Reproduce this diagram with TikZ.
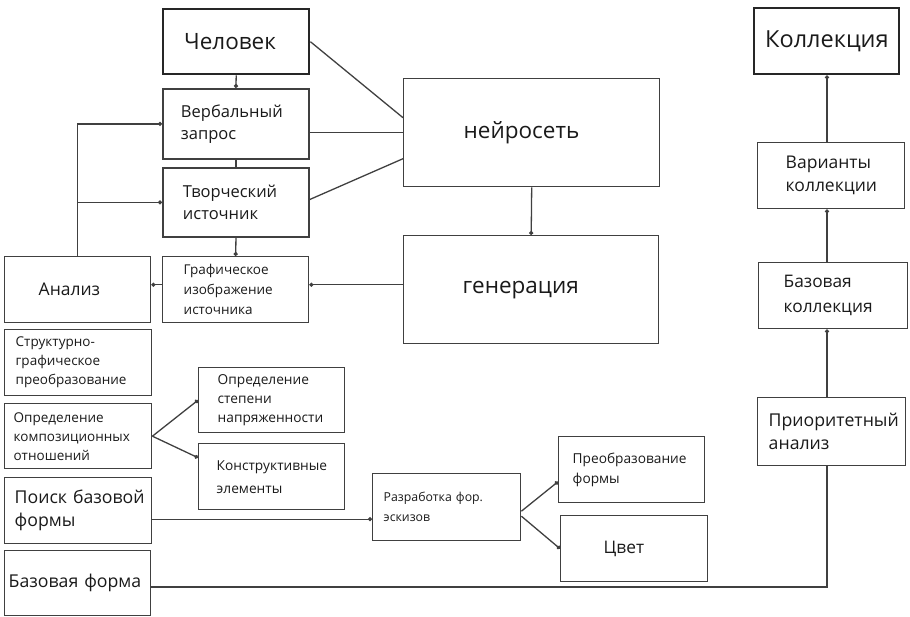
\documentclass[tikz,border=0pt]{standalone}
\usepackage{fontspec}
\setmainfont{Open Sans}
\usetikzlibrary{arrows.meta,calc}
\definecolor{lc}{HTML}{404040}
\definecolor{tc}{HTML}{1A1A1A}
\newcommand\fsz[2]{\fontsize{#1}{#2}\selectfont}
\tikzset{
  bx/.style={draw=lc, line width=1.4pt, anchor=north west, inner ysep=0pt, align=left, text=tc},
  bxthick/.style={bx, line width=2.4pt, draw=black!85},
  bxmid/.style={bx, line width=1.9pt, draw=black!75},
  conn/.style={draw=lc, line width=1.3pt},
  dot/.style={conn, -{Circle[length=4pt]}}
}
\begin{document}
\begin{tikzpicture}[x=1pt,y=-1pt]
\useasboundingbox (0,0) rectangle (910,617);
% left/top column
\node[bxthick, minimum height=65pt, inner xsep=21pt, text width=104pt, font=\fsz{22.5}{26}] (chel) at (162,8) {Человек};
\node[bxmid, minimum height=70pt, inner xsep=18pt, text width=110pt, font=\fsz{16.5}{22}] (verb) at (162,88) {Вербальный\\запрос};
\node[bxmid, minimum height=69pt, inner xsep=20pt, text width=106pt, font=\fsz{16.5}{22}] (tvor) at (162,167) {Творческий\\источник};
\node[bx, minimum height=66pt, inner xsep=21pt, text width=104pt, font=\fsz{13.5}{20}] (graf) at (162,256) {Графическое\\изображение\\источника};
\node[bx, minimum height=66pt, inner xsep=34pt, text width=78pt, font=\fsz{17.5}{22}] (an) at (4,256) {Анализ};
\node[bx, minimum height=108pt, inner xsep=60pt, text width=136pt, font=\fsz{22.5}{28}] (neiro) at (403,78) {нейросеть};
\node[bx, minimum height=108pt, inner xsep=59pt, text width=137pt, font=\fsz{22.5}{28}] (gen) at (403,235) {генерация};
% lower left
\node[bx, minimum height=66pt, inner xsep=11pt, text width=125pt, font=\fsz{13.5}{19}] (strukt) at (4,329) {Структурно-\\графическое\\преобразование};
\node[bx, minimum height=65pt, inner xsep=9pt, text width=129pt, font=\fsz{13.5}{19}] (opkomp) at (4,403) {Определение\\композиционных\\отношений};
\node[bx, minimum height=66pt, inner xsep=7pt, text width=133pt, font=\fsz{17.7}{23}] (poisk) at (4,477) {\hspace*{3pt}Поиск базовой\\\hspace*{3pt}формы};
\node[bx, minimum height=65pt, inner xsep=4pt, text width=138pt, font=\fsz{17.7}{22}] (bform) at (4,550) {Базовая форма};
\node[bx, minimum height=65pt, inner xsep=19pt, text width=108pt, font=\fsz{13.7}{19}] (opstep) at (198,367) {Определение\\степени\\напряженности};
\node[bx, minimum height=66pt, inner xsep=18pt, text width=110pt, font=\fsz{13.7}{23}] (konstr) at (198,443) {Конструктивные\\элементы};
\node[bx, minimum height=67pt, inner xsep=11pt, text width=126pt, font=\fsz{12.3}{20}] (razr) at (372,473) {Разработка фор.\\эскизов};
\node[bx, minimum height=66pt, inner xsep=14pt, text width=118pt, font=\fsz{13.7}{20}] (preob) at (558,436) {Преобразование\\формы};
\node[bx, minimum height=66pt, inner xsep=43pt, text width=61pt, font=\fsz{17.3}{22}] (cvet) at (560,515) {Цвет};
% right column
\node[bxthick, minimum height=66pt, inner xsep=11pt, text width=123pt, font=\fsz{23.5}{26}] (koll) at (753,7) {Коллекция};
\node[bx, minimum height=66pt, inner xsep=28pt, text width=91pt, font=\fsz{17.5}{23}] (var) at (757,142) {Варианты\\коллекции};
\node[bx, minimum height=66pt, inner xsep=25pt, text width=99pt, font=\fsz{17.3}{25}] (bkoll) at (758,262) {Базовая\\коллекция};
\node[bx, minimum height=68pt, inner xsep=11pt, text width=126pt, font=\fsz{17.7}{23}] (prior) at (757,397) {Приоритетный\\анализ};
% helper coordinates
\coordinate (rc) at (827,0);
\coordinate (bot) at (0,587);
\coordinate (rzin) at ([yshift=-12pt]razr.west);
% connectors top-left
\draw[dot] (chel.south) -- (verb.north);
\draw[conn] (verb.south) -- (tvor.north);
\draw[dot] (tvor.south) -- (graf.north);
\draw[dot] (an.north) |- (verb.west);
\draw[dot] (an.north |- tvor.west) -- (tvor.west);
\draw[dot] ([yshift=5pt]graf.west) -- ([yshift=5pt]an.east);
\draw[dot] ([yshift=5pt]gen.west) -- ([yshift=5pt]graf.east);
\draw[conn] (chel.east) -- ([yshift=15pt]neiro.west);
\draw[conn] (verb.east |- neiro.west) -- (neiro.west);
\draw[conn] ([yshift=3pt]tvor.east) -- ([yshift=-26pt]neiro.west);
\draw[dot] (neiro.south) -- (gen.north);
% lower-left branches
\draw[dot] (opkomp.east) -- (opstep.west);
\draw[dot] (opkomp.east) -- ([yshift=19pt]konstr.west);
\draw[dot] (poisk.east |- rzin) -- (rzin);
\draw[dot] ([yshift=-4pt]razr.east) -- ([yshift=-12pt]preob.west);
\draw[dot] ([yshift=-9pt]razr.east) -- (cvet.west);
% bottom + right column
\draw[conn] (bform.east |- bot) -| (prior.south -| rc);
\draw[dot] (prior.north -| rc) -- (bkoll.south -| rc);
\draw[dot] (bkoll.north -| rc) -- (var.south -| rc);
\draw[dot] (var.north -| rc) -- (koll.south -| rc);
\end{tikzpicture}
\end{document}
